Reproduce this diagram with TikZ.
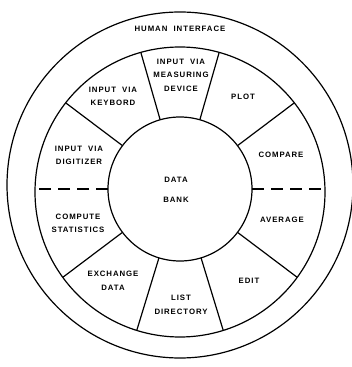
\documentclass[tikz,border=0pt]{standalone}
\usepackage{fontspec}
\setmainfont{Liberation Sans}[LetterSpace=12,WordSpace=2]
\begin{document}
\begin{tikzpicture}[x=1pt,y=1pt,line width=1.2pt,
  ring/.style={circle,draw,inner sep=0pt,outer sep=0pt},
  lbl/.style={font=\bfseries\fontsize{7.8}{13.5}\selectfont,align=center,inner sep=0pt},
  spoke/.style={line width=1.2pt},
  dspoke/.style={line width=1.1pt,dash pattern=on 12pt off 7pt}]
\useasboundingbox (0,0) rectangle (352,367);
\node[ring,minimum size=346pt] (outer) at (180,182) {};
\node[ring,minimum size=290pt] (mid) at (180,175) {};
\node[ring,minimum size=144pt] (bank) at (180,178) {};
\begin{scope}
  \clip (180,175) circle (145pt);
  \foreach \a in {37,74,106,143,217,253,287,323}
    \draw[spoke] (bank.\a) -- ([shift={(\a:160pt)}]bank.center);
  \draw[dspoke] (bank.0) -- ([shift={(0:160pt)}]bank.center);
  \draw[dspoke] (bank.180) -- ([shift={(180:160pt)}]bank.center);
\end{scope}
\node[lbl] (hi) at (180,338) {HUMAN INTERFACE};
\node[lbl] (meas) at (181,292) {INPUT VIA\\MEASURING\\DEVICE};
\node[lbl] (key) at (113,270.5) {INPUT VIA\\KEYBORD};
\node[lbl] (plot) at (243,270) {PLOT};
\node[lbl] (dig) at (79,211.5) {INPUT VIA\\DIGITIZER};
\node[lbl] (cmp) at (281,212) {COMPARE};
\node[lbl] (data) at (176,187) {DATA};
\node[lbl] (bk) at (176,167) {BANK};
\node[lbl] (stat) at (78,143.5) {COMPUTE\\STATISTICS};
\node[lbl] (avg) at (282,147) {AVERAGE};
\node[lbl] (xch) at (113,86) {EXCHANGE\\DATA};
\node[lbl] (edit) at (249,86) {EDIT};
\node[lbl] (list) at (181,62) {LIST\\DIRECTORY};
\end{tikzpicture}
\end{document}
